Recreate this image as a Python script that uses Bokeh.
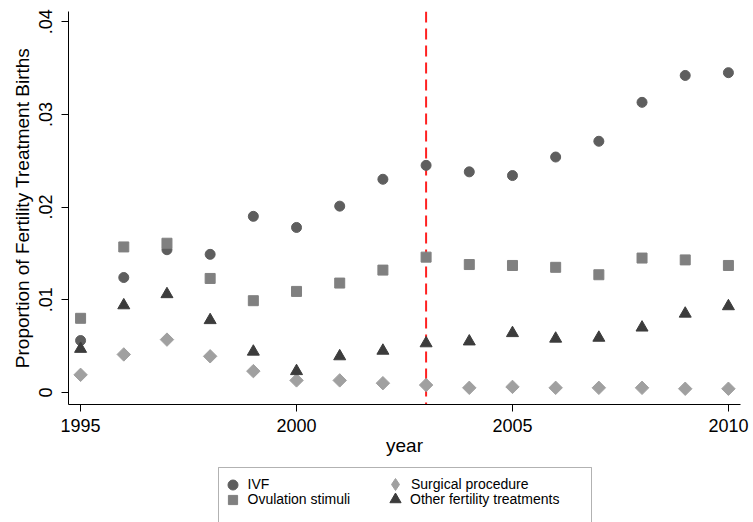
import numpy as np
from bokeh.plotting import figure
from bokeh.layouts import column
from bokeh.models import Span, Legend, LegendItem, FixedTicker, Range1d, BoxAnnotation
from bokeh.embed import file_html
from bokeh.resources import INLINE

years = list(range(1995, 2011))
ivf = [0.0056, 0.0124, 0.0154, 0.0149, 0.0190, 0.0178, 0.0201, 0.0230,
       0.0245, 0.0238, 0.0234, 0.0254, 0.0271, 0.0313, 0.0342, 0.0345]
ovulation = [0.0080, 0.0157, 0.0161, 0.0123, 0.0099, 0.0109, 0.0118, 0.0132,
             0.0146, 0.0138, 0.0137, 0.0135, 0.0127, 0.0145, 0.0143, 0.0137]
surgical = [0.0019, 0.0041, 0.0057, 0.0039, 0.0023, 0.0013, 0.0013, 0.0010,
            0.0008, 0.0005, 0.0006, 0.0005, 0.0005, 0.0005, 0.0004, 0.0004]
other = [0.0047, 0.0094, 0.0106, 0.0078, 0.0044, 0.0023, 0.0039, 0.0045,
         0.0053, 0.0055, 0.0064, 0.0058, 0.0059, 0.0070, 0.0085, 0.0093]
policy_year = 2003

x_ticks = [1995, 2000, 2005, 2010]
y_ticks = [0, 0.01, 0.02, 0.03, 0.04]
y_tick_labels = ["0", ".01", ".02", ".03", ".04"]
series_names = ["IVF", "Ovulation stimuli", "Surgical procedure", "Other fertility treatments"]

FONT = "Liberation Sans"
colors = ["#5e5e5e", "#808080", "#a0a0a0", "#3c3c3c"]

BORDER_L, BORDER_R = 68, 13

p = figure(width=753, height=464, output_backend="svg", toolbar_location=None,
           x_range=Range1d(1994.72, 2010.28), y_range=Range1d(-0.0013, 0.0411),
           min_border_left=BORDER_L, min_border_right=BORDER_R, min_border_top=11,
           min_border_bottom=60, background_fill_color="white",
           border_fill_color="white", outline_line_color=None)
p.grid.visible = False

# axes
p.xaxis.ticker = FixedTicker(ticks=x_ticks)
p.yaxis.ticker = FixedTicker(ticks=y_ticks)
p.yaxis.major_label_overrides = {t: l for t, l in zip(y_ticks, y_tick_labels)}
p.yaxis.major_label_orientation = "vertical"
for ax in (p.xaxis[0], p.yaxis[0]):
    ax.minor_tick_line_color = None
    ax.major_tick_out = 7
    ax.major_tick_in = 0
    ax.axis_line_color = "black"
    ax.major_tick_line_color = "black"
    ax.major_label_text_font = FONT
    ax.major_label_text_font_size = "18px"
    ax.major_label_text_color = "black"
    ax.axis_label_text_font = FONT
    ax.axis_label_text_font_size = "19px"
    ax.axis_label_text_font_style = "normal"
    ax.axis_label_text_color = "black"
p.xaxis.axis_label = "year"
p.yaxis.axis_label = "Proportion of Fertility Treatment Births"
p.xaxis.major_label_standoff = 7
p.xaxis.axis_label_standoff = 0
p.yaxis.major_label_standoff = 9
p.yaxis.axis_label_standoff = 4

# policy line
p.add_layout(Span(location=policy_year, dimension="height", line_color="#ff2020",
                  line_width=2, line_dash="11 6", level="underlay"))

p.scatter(years, ivf, marker="circle", size=10, fill_color=colors[0], line_color=colors[0])
p.scatter(years, ovulation, marker="square", size=10, fill_color=colors[1], line_color=colors[1])
p.scatter(years, surgical, marker="square", angle=np.pi / 4, size=9.5,
          fill_color=colors[2], line_color=colors[2])
p.scatter(years, other, marker="triangle", size=12, fill_color=colors[3], line_color=colors[3])

# legend strip below the plot (same side borders as the plot so frames align).
# Its ranges are in pixels; key renderers lie outside the visible range.
lg = figure(width=753, height=58, output_backend="svg", toolbar_location=None,
            x_range=Range1d(0, 672), y_range=Range1d(0, 56),
            x_axis_location=None, y_axis_location=None,
            min_border_left=BORDER_L, min_border_right=BORDER_R, min_border_top=2,
            min_border_bottom=0, background_fill_color="white",
            border_fill_color="white", outline_line_color=None)
lg.grid.visible = False
k_ivf = lg.scatter(years, ivf, marker="circle", fill_color=colors[0], line_color=colors[0])
k_ovu = lg.scatter(years, ovulation, marker="square", fill_color=colors[1], line_color=colors[1])
k_sur = lg.scatter(years, surgical, marker="diamond", fill_color=colors[2], line_color=colors[2])
k_oth = lg.scatter(years, other, marker="triangle", fill_color=colors[3], line_color=colors[3])

# legend box (open at the bottom, as in the cropped original)
lg.add_layout(BoxAnnotation(left=150, right=523, top=55, bottom=-5,
                            fill_color=None, fill_alpha=0,
                            line_color="black", line_width=1))

# (renderer, key box size, location, label standoff)
key_specs = [(k_ivf, 25, (151.5, 25.5), 3),
             (k_ovu, 23, (152.5, 11.5), 4),
             (k_sur, 30, (312, 23), 1),
             (k_oth, 28, (313, 9), 1)]
for name, (r, g, loc, so) in zip(series_names, key_specs):
    lg.add_layout(Legend(items=[LegendItem(label=name, renderers=[r])],
                         location=loc, orientation="horizontal",
                         glyph_width=g, glyph_height=g, label_height=16,
                         label_standoff=so, spacing=0, padding=0, margin=0,
                         label_text_font=FONT, label_text_font_size="14px",
                         label_text_color="black", border_line_color=None,
                         background_fill_alpha=0), "center")

open("out.html", "w").write(file_html(column(p, lg, spacing=0), INLINE))
